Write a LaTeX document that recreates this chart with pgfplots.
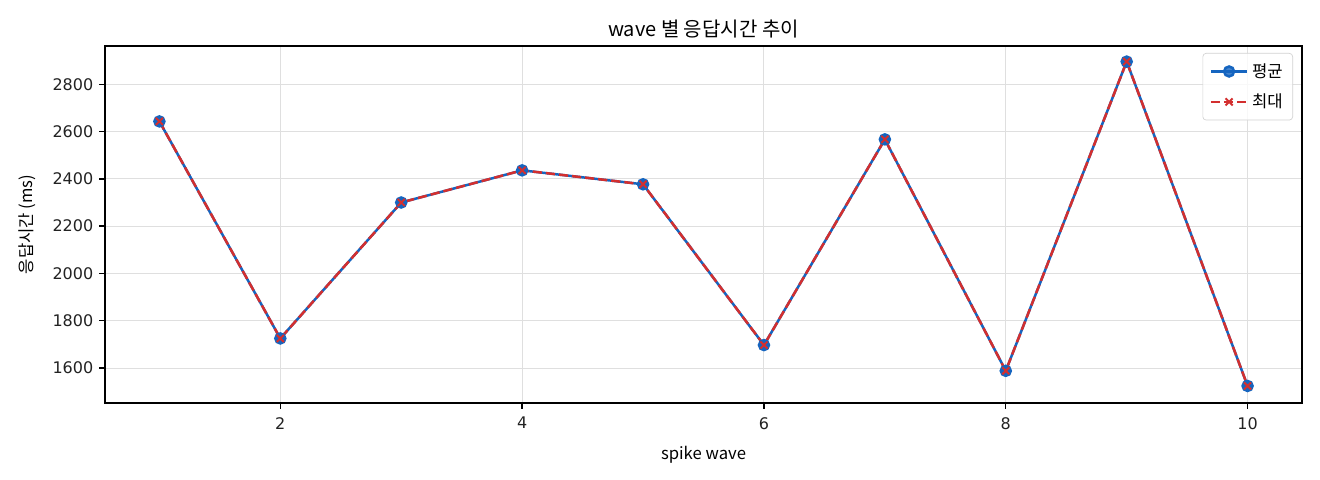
\documentclass[border=0pt]{standalone}
\usepackage{pgfplots}
\pgfplotsset{compat=1.18}
\usepackage{fontspec}
\setmainfont{Noto Sans CJK KR}
\newfontfamily\numfont{DejaVu Sans}
\definecolor{avgblue}{HTML}{1565C0}
\definecolor{maxred}{HTML}{D32F2F}
\definecolor{tickgray}{HTML}{222222}

\begin{document}
\begin{tikzpicture}
\useasboundingbox (-63pt,-46.2pt) rectangle (729pt,241.8pt);
\begin{axis}[
    at={(0,0)}, anchor=south west,
    scale only axis,
    width=718.2pt, height=214.2pt,
    xmin=0.55, xmax=10.45,
    ymin=1452, ymax=2962,
    xtick={2,4,6,8,10},
    ytick={1600,1800,2000,2200,2400,2600,2800},
    /pgf/number format/assume math mode=true,
    /pgf/number format/1000 sep={},
    tick label style={font=\numfont\fontsize{9.6pt}{12pt}\selectfont, text=tickgray},
    xticklabel style={yshift=-1.5pt},
    tick align=outside,
    tick pos=left,
    major tick length=3.5pt,
    every tick/.style={black, line width=0.8pt},
    axis line style={line width=0.8pt},
    grid=major,
    major grid style={gray!25, line width=0.6pt},
    title={wave 별 응답시간 추이},
    title style={font=\fontsize{12pt}{14pt}\selectfont, yshift=-5pt},
    xlabel={spike wave},
    ylabel={응답시간 (ms)},
    xlabel style={yshift=-3pt},
    ylabel style={yshift=3pt},
    label style={font=\fontsize{10pt}{12pt}\selectfont},
    legend style={at={(1,1)}, anchor=north east, xshift=-5.4pt, yshift=-4.2pt,
        draw=gray!35, rounded corners=2pt, fill=white, fill opacity=0.8, text opacity=1,
        font=\fontsize{10pt}{12pt}\selectfont, row sep=4.5pt, inner xsep=4pt, inner ysep=4pt},
    legend cell align=left,
    legend image code/.code={
        \draw[mark repeat=2, mark phase=2, #1]
            plot coordinates {(0pt,0pt) (11pt,0pt) (22pt,0pt)};
    },
]
\addplot[avgblue, line width=1.5pt, mark=*, mark size=3pt, mark options={solid, draw=avgblue, fill=avgblue}]
coordinates {(1,2643) (2,1725) (3,2300) (4,2436) (5,2377) (6,1697) (7,2567) (8,1588) (9,2896) (10,1524)};
\addlegendentry{평균}
\addplot[maxred, line width=1.5pt, dash pattern=on 5.5pt off 2.4pt, mark=x, mark size=3pt, mark options={solid, line width=1.2pt}]
coordinates {(1,2643) (2,1725) (3,2300) (4,2436) (5,2377) (6,1697) (7,2567) (8,1588) (9,2896) (10,1524)};
\addlegendentry{최대}
\end{axis}
\end{tikzpicture}
\end{document}
